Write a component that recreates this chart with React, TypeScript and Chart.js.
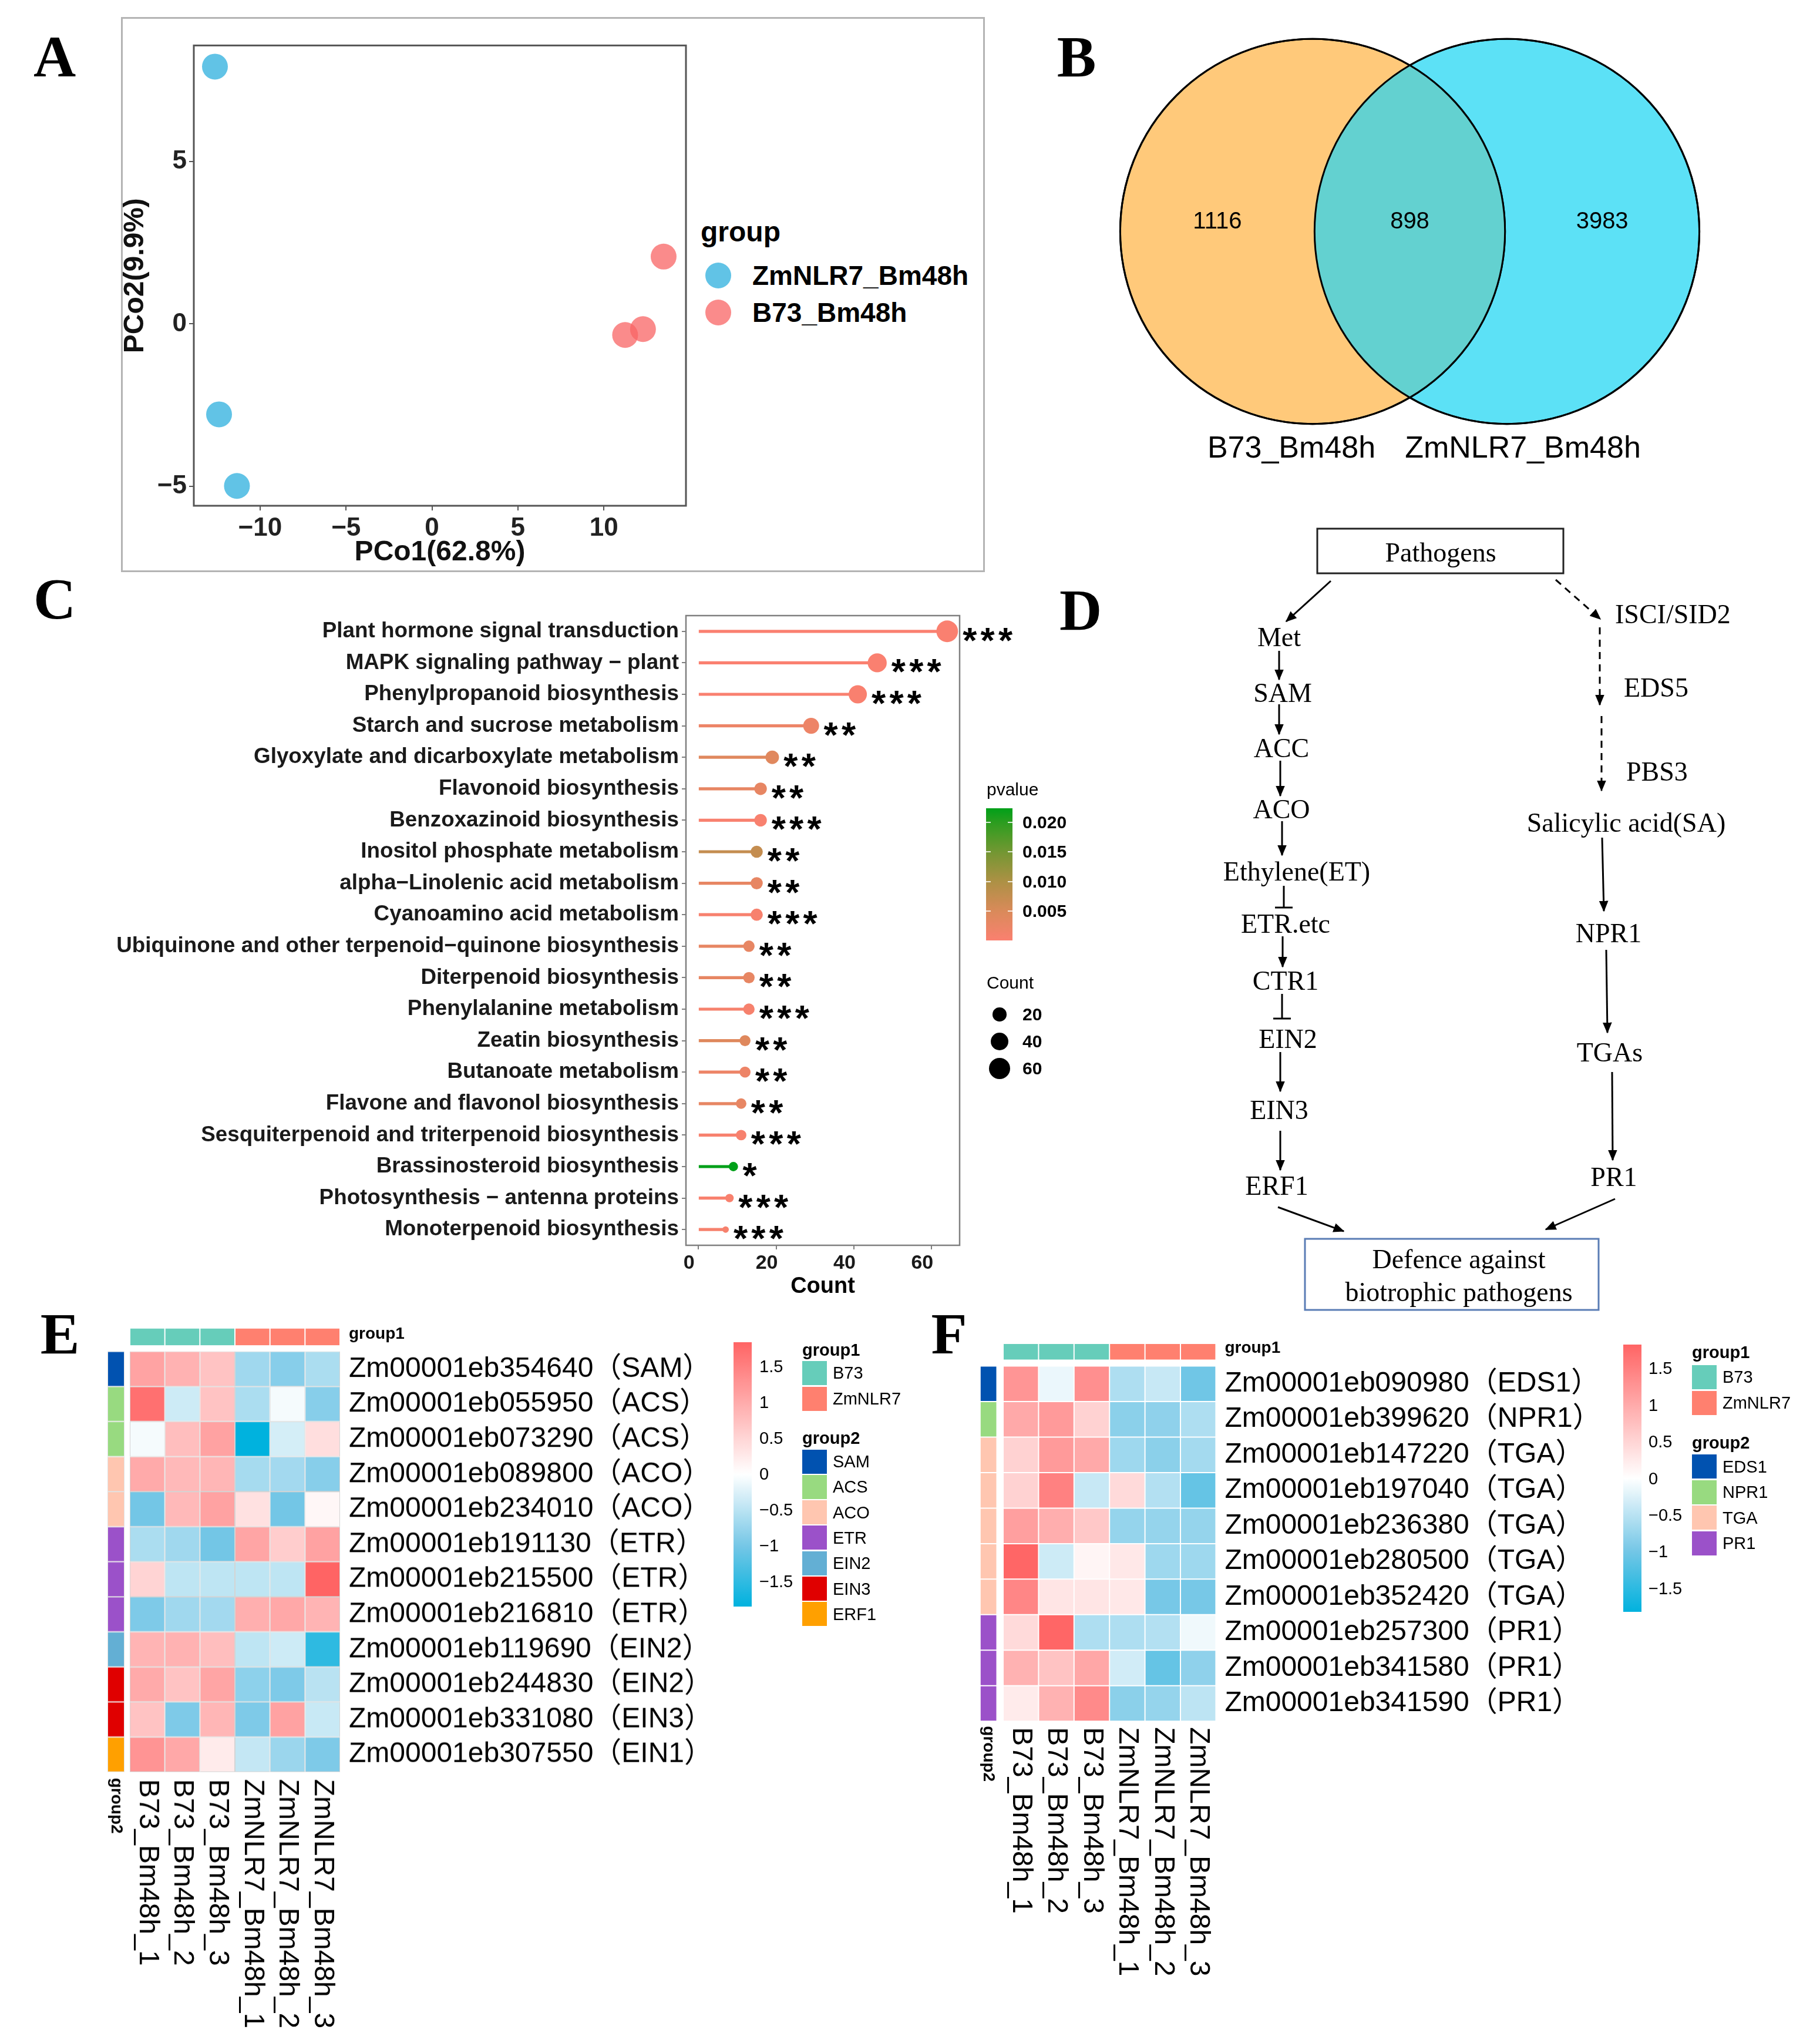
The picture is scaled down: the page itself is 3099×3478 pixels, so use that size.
import React, { useEffect, useRef } from 'react';
import { Chart, registerables } from 'chart.js';

Chart.register(...registerables);

const SANS = "'Liberation Sans', Arial, Helvetica, sans-serif";
const SERIF = "'Liberation Serif', 'Times New Roman', serif";
const GENE_FONT = "'Liberation Sans', 'Noto Sans CJK SC', sans-serif";

// ---------------- Panel A : PCoA ----------------
const pcoaGroups = ['ZmNLR7_Bm48h', 'B73_Bm48h'];
const pcoaZmNLR7X = [-12.63, -12.39, -11.35];
const pcoaZmNLR7Y = [7.91, -2.78, -4.98];
const pcoaB73X = [13.48, 12.28, 11.24];
const pcoaB73Y = [2.07, -0.16, -0.34];
const pcoaXTicks = [-10, -5, 0, 5, 10];
const pcoaYTicks = [-5, 0, 5];
const pcoaXTitle = 'PCo1(62.8%)';
const pcoaYTitle = 'PCo2(9.9%)';

// ---------------- Panel B : Venn ----------------
const vennSets = ['B73_Bm48h', 'ZmNLR7_Bm48h'];
const vennCounts = [1116, 898, 3983]; // B73 only, shared, ZmNLR7 only

// ---------------- Panel C : KEGG enrichment ----------------
const keggTerms = [
  'Plant hormone signal transduction',
  'MAPK signaling pathway \u2212 plant',
  'Phenylpropanoid biosynthesis',
  'Starch and sucrose metabolism',
  'Glyoxylate and dicarboxylate metabolism',
  'Flavonoid biosynthesis',
  'Benzoxazinoid biosynthesis',
  'Inositol phosphate metabolism',
  'alpha\u2212Linolenic acid metabolism',
  'Cyanoamino acid metabolism',
  'Ubiquinone and other terpenoid\u2212quinone biosynthesis',
  'Diterpenoid biosynthesis',
  'Phenylalanine metabolism',
  'Zeatin biosynthesis',
  'Butanoate metabolism',
  'Flavone and flavonol biosynthesis',
  'Sesquiterpenoid and triterpenoid biosynthesis',
  'Brassinosteroid biosynthesis',
  'Photosynthesis \u2212 antenna proteins',
  'Monoterpenoid biosynthesis',
];
const keggCounts = [64, 46, 41, 29, 19, 16, 16, 15, 15, 15, 13, 13, 13, 12, 12, 11, 11, 9, 8, 7];
const keggPvalues = [
  0.00003, 0.0001, 0.0002, 0.002, 0.004, 0.003, 0.0003, 0.0074, 0.003, 0.0005,
  0.003, 0.003, 0.0006, 0.0042, 0.002, 0.003, 0.0005, 0.0224, 0.0004, 0.0007,
];
const countTicks = [0, 20, 40, 60];
const pvalueTicks = [0.005, 0.01, 0.015, 0.02];
const countLegend = [20, 40, 60];

// ---------------- Panels E / F : heatmaps ----------------
const samples = ['B73_Bm48h_1', 'B73_Bm48h_2', 'B73_Bm48h_3', 'ZmNLR7_Bm48h_1', 'ZmNLR7_Bm48h_2', 'ZmNLR7_Bm48h_3'];
const sampleGroups = ['B73', 'B73', 'B73', 'ZmNLR7', 'ZmNLR7', 'ZmNLR7'];
const groupLegend = ['B73', 'ZmNLR7'];

const etGenes = [
  'Zm00001eb354640\uFF08SAM\uFF09',
  'Zm00001eb055950\uFF08ACS\uFF09',
  'Zm00001eb073290\uFF08ACS\uFF09',
  'Zm00001eb089800\uFF08ACO\uFF09',
  'Zm00001eb234010\uFF08ACO\uFF09',
  'Zm00001eb191130\uFF08ETR\uFF09',
  'Zm00001eb215500\uFF08ETR\uFF09',
  'Zm00001eb216810\uFF08ETR\uFF09',
  'Zm00001eb119690\uFF08EIN2\uFF09',
  'Zm00001eb244830\uFF08EIN2\uFF09',
  'Zm00001eb331080\uFF08EIN3\uFF09',
  'Zm00001eb307550\uFF08EIN1\uFF09',
];
const etFamilies = ['SAM', 'ACS', 'ACS', 'ACO', 'ACO', 'ETR', 'ETR', 'ETR', 'EIN2', 'EIN3', 'EIN3', 'ERF1'];
const etValues = [
  [1.09, 0.91, 0.71, -0.69, -0.87, -0.61],
  [1.7, -0.36, 0.71, -0.61, -0.07, -0.87],
  [-0.07, 0.77, 1.1, -1.85, -0.31, 0.39],
  [1.01, 0.83, 0.87, -0.65, -0.67, -0.87],
  [-1.02, 0.83, 1.1, 0.36, -1.02, 0.09],
  [-0.61, -0.69, -1.02, 1.07, 0.59, 1.1],
  [0.51, -0.47, -0.47, -0.47, -0.47, 1.84],
  [-0.94, -0.69, -0.67, 0.95, 1.03, 0.89],
  [0.89, 0.91, 0.77, -0.47, -0.36, -1.52],
  [1.01, 0.71, 1.07, -0.83, -0.94, -0.51],
  [0.71, -0.94, 0.87, -0.94, 1.1, -0.4],
  [1.27, 1.03, 0.24, -0.43, -0.73, -0.94],
];
const etFamilyLegend = ['SAM', 'ACS', 'ACO', 'ETR', 'EIN2', 'EIN3', 'ERF1'];

const saGenes = [
  'Zm00001eb090980\uFF08EDS1\uFF09',
  'Zm00001eb399620\uFF08NPR1\uFF09',
  'Zm00001eb147220\uFF08TGA\uFF09',
  'Zm00001eb197040\uFF08TGA\uFF09',
  'Zm00001eb236380\uFF08TGA\uFF09',
  'Zm00001eb280500\uFF08TGA\uFF09',
  'Zm00001eb352420\uFF08TGA\uFF09',
  'Zm00001eb257300\uFF08PR1\uFF09',
  'Zm00001eb341580\uFF08PR1\uFF09',
  'Zm00001eb341590\uFF08PR1\uFF09',
];
const saFamilies = ['EDS1', 'NPR1', 'TGA', 'TGA', 'TGA', 'TGA', 'TGA', 'PR1', 'PR1', 'PR1'];
const saValues = [
  [1.25, -0.14, 1.31, -0.58, -0.4, -1.02],
  [1.01, 1.19, 0.53, -0.83, -0.8, -0.58],
  [0.53, 1.19, 1.01, -0.69, -0.83, -0.65],
  [0.53, 1.48, -0.4, 0.44, -0.54, -1.1],
  [1.13, 0.95, 0.65, -0.76, -0.76, -0.76],
  [1.8, -0.36, 0.12, 0.27, -0.69, -0.69],
  [1.42, 0.3, 0.3, 0.27, -0.97, -0.97],
  [0.44, 1.8, -0.58, -0.58, -0.54, -0.11],
  [0.91, 0.71, 1.03, -0.33, -1.1, -0.8],
  [0.24, 0.91, 1.37, -0.83, -0.76, -0.47],
];
const saFamilyLegend = ['EDS1', 'NPR1', 'TGA', 'PR1'];
const heatTicks = [1.5, 1, 0.5, 0, -0.5, -1, -1.5];

// ---------------- colours ----------------
const GROUP_COLORS: Record<string, string> = { B73: '#66CDBA', ZmNLR7: '#FF806F' };
const FAMILY_COLORS: Record<string, string> = {
  SAM: '#0152B0', ACS: '#98DA80', ACO: '#FFC6B0', ETR: '#9B51C9', EIN2: '#63AFD4', EIN3: '#E00000', ERF1: '#FFA000',
  EDS1: '#0152B0', NPR1: '#98DA80', TGA: '#FFC6B0', PR1: '#9B51C9',
};

type Stop = [number, number[]];
function ramp(stops: Stop[], t: number) {
  const tt = Math.max(0, Math.min(1, t));
  for (let i = 1; i < stops.length; i++) {
    const [t1, c1] = stops[i];
    const [t0, c0] = stops[i - 1];
    if (tt <= t1) {
      const f = (tt - t0) / (t1 - t0);
      return c0.map((v, k) => Math.round(v + (c1[k] - v) * f));
    }
  }
  return stops[stops.length - 1][1];
}
const rgb = (c: number[]) => `rgb(${c[0]},${c[1]},${c[2]})`;

const HEAT_POS: Stop[] = [[0, [255, 255, 255]], [1, [255, 100, 100]]];
const HEAT_NEG: Stop[] = [[0, [255, 255, 255]], [0.55, [115, 198, 230]], [1, [0, 178, 222]]];
function heatColor(v: number, lo: number, hi: number) {
  return v >= 0 ? rgb(ramp(HEAT_POS, v / hi)) : rgb(ramp(HEAT_NEG, v / lo));
}

const P_STOPS: Stop[] = [
  [0, [250, 128, 112]], [0.22, [218, 138, 90]], [0.45, [172, 145, 68]],
  [0.67, [115, 151, 50]], [0.89, [45, 157, 32]], [1, [0, 160, 25]],
];
const P_MIN = Math.min(...keggPvalues);
const P_MAX = Math.max(...keggPvalues);
const pColor = (p: number) => rgb(ramp(P_STOPS, (p - P_MIN) / (P_MAX - P_MIN)));
const keggColors = keggPvalues.map(pColor);
const C_MIN = Math.min(...keggCounts);
const C_MAX = Math.max(...keggCounts);
const dotRadius = (c: number) => 5.5 + 12.95 * Math.sqrt(Math.max(0, (c - C_MIN) / (C_MAX - C_MIN)));
const starsFor = (p: number) => (p < 0.001 ? 3 : p < 0.01 ? 2 : p < 0.05 ? 1 : 0);
const fmtMinus = (v: number) => (v < 0 ? '\u2212' + Math.abs(v) : String(v));

// ---------------- plugins ----------------
const framePlugin = {
  id: 'frame',
  afterDraw(chart: any, _a: any, opts: any) {
    if (!opts || !opts.color) return;
    const { ctx, chartArea } = chart;
    ctx.save();
    ctx.strokeStyle = opts.color;
    ctx.lineWidth = opts.width;
    ctx.strokeRect(chartArea.left, chartArea.top, chartArea.right - chartArea.left, chartArea.bottom - chartArea.top);
    ctx.restore();
  },
};

const starsPlugin = {
  id: 'stars',
  afterDatasetsDraw(chart: any) {
    const { ctx } = chart;
    const xs = chart.scales.x;
    const ys = chart.scales.y;
    ctx.save();
    ctx.fillStyle = '#000';
    ctx.font = `bold 62px ${SANS}`;
    ctx.textAlign = 'center';
    ctx.textBaseline = 'alphabetic';
    keggCounts.forEach((c, i) => {
      const n = starsFor(keggPvalues[i]);
      const x0 = xs.getPixelForValue(c) + dotRadius(c) + 20;
      const y = ys.getPixelForValue(i) + 36;
      for (let k = 0; k < n; k++) ctx.fillText('*', x0 + k * 30.4, y);
    });
    ctx.restore();
  },
};

const vennPlugin = {
  id: 'venn',
  afterDatasetsDraw(chart: any, _a: any, opts: any) {
    const { ctx } = chart;
    const ma = chart.getDatasetMeta(0).data[0];
    const mb = chart.getDatasetMeta(1).data[0];
    if (!ma || !mb) return;
    const ra = ma.options.radius;
    const rb = mb.options.radius;
    ctx.save();
    ctx.beginPath();
    ctx.arc(ma.x, ma.y, ra, 0, Math.PI * 2);
    ctx.clip();
    ctx.beginPath();
    ctx.arc(mb.x, mb.y, rb, 0, Math.PI * 2);
    ctx.fillStyle = opts.overlap;
    ctx.fill();
    ctx.restore();
    ctx.save();
    ctx.strokeStyle = '#000';
    ctx.lineWidth = 3;
    ctx.beginPath();
    ctx.arc(ma.x, ma.y, ra, 0, Math.PI * 2);
    ctx.stroke();
    ctx.beginPath();
    ctx.arc(mb.x, mb.y, rb, 0, Math.PI * 2);
    ctx.stroke();
    ctx.fillStyle = '#000';
    ctx.font = `40px ${SANS}`;
    ctx.textAlign = 'center';
    ctx.textBaseline = 'middle';
    const y = ma.y - 16;
    ctx.fillText(String(vennCounts[0]), (ma.x - ra + (mb.x - rb)) / 2, y);
    ctx.fillText(String(vennCounts[1]), (mb.x - rb + (ma.x + ra)) / 2, y);
    ctx.fillText(String(vennCounts[2]), (ma.x + ra + (mb.x + rb)) / 2, y);
    ctx.restore();
  },
};

const colLabelsPlugin = {
  id: 'colLabels',
  afterDraw(chart: any, _a: any, opts: any) {
    const { ctx, chartArea } = chart;
    const xs = chart.scales.x;
    ctx.save();
    ctx.fillStyle = '#000';
    ctx.textAlign = 'left';
    ctx.textBaseline = 'middle';
    ctx.font = `48px ${SANS}`;
    samples.forEach((lab, j) => {
      ctx.save();
      ctx.translate(xs.getPixelForValue(j + 0.5), chartArea.bottom + opts.gap);
      ctx.rotate(Math.PI / 2);
      ctx.fillText(lab, 0, 0);
      ctx.restore();
    });
    ctx.font = `bold 28px ${SANS}`;
    ctx.translate(xs.getPixelForValue((opts.annX0 + opts.annX1) / 2), chartArea.bottom + opts.gap - 2);
    ctx.rotate(Math.PI / 2);
    ctx.fillText('group2', 0, 0);
    ctx.restore();
  },
};

// ---------------- chart configs ----------------
function pcoaConfig() {
  const font = (size: number) => ({ family: SANS, size, weight: 'bold' as const });
  return {
    type: 'scatter',
    data: {
      datasets: [
        {
          label: pcoaGroups[0],
          data: pcoaZmNLR7X.map((x, i) => ({ x, y: pcoaZmNLR7Y[i] })),
          pointRadius: 22,
          backgroundColor: 'rgba(84,190,228,0.92)',
          borderWidth: 0,
        },
        {
          label: pcoaGroups[1],
          data: pcoaB73X.map((x, i) => ({ x, y: pcoaB73Y[i] })),
          pointRadius: 22,
          backgroundColor: 'rgba(248,100,100,0.75)',
          borderWidth: 0,
        },
      ],
    },
    options: {
      responsive: false,
      animation: false,
      events: [],
      layout: { autoPadding: false, padding: { top: 20, right: 10, left: 0, bottom: 0 } },
      plugins: { legend: { display: false }, tooltip: { enabled: false }, frame: { color: '#555555', width: 3 } },
      scales: {
        x: {
          type: 'linear',
          min: -13.86,
          max: 14.78,
          afterBuildTicks: (s: any) => { s.ticks = pcoaXTicks.map((v) => ({ value: v })); },
          ticks: { font: font(44), color: '#222', padding: 4, callback: (v: number) => fmtMinus(v) },
          grid: { drawOnChartArea: false, tickLength: 8, color: '#555', lineWidth: 2 },
          border: { display: false },
          title: { display: true, text: pcoaXTitle, font: font(48), color: '#111', padding: { top: 0, bottom: 4 } },
          afterFit: (s: any) => { s.height = 113; },
        },
        y: {
          type: 'linear',
          min: -5.59,
          max: 8.56,
          afterBuildTicks: (s: any) => { s.ticks = pcoaYTicks.map((v) => ({ value: v })); },
          ticks: { font: font(44), color: '#222', padding: 4, callback: (v: number) => fmtMinus(v) },
          grid: { drawOnChartArea: false, tickLength: 8, color: '#555', lineWidth: 2 },
          border: { display: false },
          title: { display: true, text: pcoaYTitle, font: font(48), color: '#111', padding: { top: 2, bottom: 0 } },
          afterFit: (s: any) => { s.width = 130; },
        },
      },
    },
    plugins: [framePlugin],
  };
}

const VENN_BOX = { left: 1871, top: 30, width: 1059, height: 728 };
const VENN_XRANGE = 1.6;
function vennConfig() {
  // circle radius = 0.99 x distance between the two set centres (1 axis unit)
  const unitPx = VENN_BOX.width / (2 * VENN_XRANGE);
  const r = 0.99 * unitPx;
  return {
    type: 'bubble',
    data: {
      datasets: [
        { label: vennSets[0], data: [{ x: -0.5, y: 0, r }], backgroundColor: '#FFC97A', borderColor: '#000', borderWidth: 3 },
        { label: vennSets[1], data: [{ x: 0.5, y: 0, r }], backgroundColor: '#5CE1F6', borderColor: '#000', borderWidth: 3 },
      ],
    },
    options: {
      responsive: false,
      animation: false,
      events: [],
      clip: false,
      layout: { autoPadding: false, padding: 0 },
      plugins: { legend: { display: false }, tooltip: { enabled: false }, venn: { overlap: '#63D1D0' } },
      scales: {
        x: { type: 'linear', display: false, min: -VENN_XRANGE, max: VENN_XRANGE },
        y: { type: 'linear', display: false, min: -1.1, max: 1.1 },
      },
    },
    plugins: [vennPlugin],
  };
}

function keggConfig() {
  return {
    type: 'bar',
    data: {
      labels: keggTerms,
      datasets: [
        { type: 'bar', data: keggCounts, backgroundColor: keggColors, barThickness: 4.5, borderWidth: 0, order: 2 },
        {
          type: 'line',
          data: keggCounts,
          showLine: false,
          pointRadius: (ctx: any) => dotRadius(keggCounts[ctx.dataIndex ?? 0]),
          pointBackgroundColor: keggColors,
          pointBorderWidth: 0,
          order: 1,
        },
      ],
    },
    options: {
      indexAxis: 'y',
      responsive: false,
      animation: false,
      events: [],
      layout: { autoPadding: false, padding: { top: 48, right: 116, left: 0, bottom: 0 } },
      plugins: { legend: { display: false }, tooltip: { enabled: false }, frame: { color: '#7f7f7f', width: 2.5 } },
      scales: {
        x: {
          type: 'linear',
          min: -3.2,
          max: 67.2,
          afterBuildTicks: (s: any) => { s.ticks = countTicks.map((v) => ({ value: v })); },
          ticks: { font: { family: SANS, size: 34, weight: 'bold' }, color: '#1a1a1a', padding: 3, labelOffset: -16 },
          grid: { drawOnChartArea: false, tickLength: 7, color: '#7f7f7f', lineWidth: 2 },
          border: { display: false },
          title: { display: true, text: 'Count', font: { family: SANS, size: 38, weight: 'bold' }, color: '#000', padding: { top: 0, bottom: 2 } },
          afterFit: (s: any) => { s.height = 95; },
        },
        y: {
          type: 'category',
          ticks: { font: { family: SANS, size: 36.8, weight: 'bold' }, color: '#1a1a1a', padding: 5, autoSkip: false },
          grid: { drawOnChartArea: false, tickLength: 7, color: '#7f7f7f', lineWidth: 2, offset: false },
          border: { display: false },
          afterFit: (s: any) => { s.width = 1168; },
        },
      },
    },
    plugins: [framePlugin, starsPlugin],
  };
}

type HeatCfg = {
  lo: number; hi: number; annX0: number; annX1: number; gridColor: string; annBorder: string;
  g1Top: number; g1Bottom: number; padLeft: number; padTop: number; padBottom: number; axisWidth: number; gap: number;
};
function heatConfig(genes: string[], families: string[], values: number[][], cfg: HeatCfg) {
  const rows = ['group1', ...genes];
  const datasets: any[] = samples.map((_s, j) => ({
    type: 'bar',
    data: rows.map(() => [j, j + 1]),
    backgroundColor: (ctx: any) => {
      const i = ctx.dataIndex ?? 1;
      return i === 0 ? GROUP_COLORS[sampleGroups[j]] : heatColor(values[i - 1][j], cfg.lo, cfg.hi);
    },
    borderColor: (ctx: any) => ((ctx.dataIndex ?? 1) === 0 ? '#FFFFFF' : cfg.gridColor),
    borderWidth: (ctx: any) =>
      (ctx.dataIndex ?? 1) === 0 ? { top: cfg.g1Top, bottom: cfg.g1Bottom, left: 1, right: 1 } : 1,
    borderSkipped: false,
    inflateAmount: 0,
    barPercentage: 1,
    categoryPercentage: 1,
    grouped: false,
  }));
  datasets.push({
    type: 'bar',
    data: rows.map((_r, i) => (i === 0 ? null : [cfg.annX0, cfg.annX1])),
    backgroundColor: (ctx: any) => FAMILY_COLORS[families[(ctx.dataIndex ?? 1) - 1]] || 'rgba(0,0,0,0)',
    borderColor: cfg.annBorder,
    borderWidth: 1,
    borderSkipped: false,
    inflateAmount: 0,
    barPercentage: 1,
    categoryPercentage: 1,
    grouped: false,
  });
  return {
    type: 'bar',
    data: { labels: rows, datasets },
    options: {
      indexAxis: 'y',
      responsive: false,
      animation: false,
      events: [],
      layout: { autoPadding: false, padding: { left: cfg.padLeft, top: cfg.padTop, bottom: cfg.padBottom, right: 0 } },
      plugins: {
        legend: { display: false },
        tooltip: { enabled: false },
        colLabels: { gap: cfg.gap, annX0: cfg.annX0, annX1: cfg.annX1 },
      },
      scales: {
        x: { type: 'linear', display: false, min: cfg.annX0, max: samples.length },
        y: {
          type: 'category',
          position: 'right',
          offset: true,
          grid: { display: false },
          border: { display: false },
          ticks: {
            autoSkip: false,
            padding: 7,
            color: '#000',
            font: (ctx: any) =>
              ctx.index === 0 ? { family: SANS, size: 28, weight: 'bold' } : { family: GENE_FONT, size: 48 },
          },
          afterFit: (s: any) => { s.width = cfg.axisWidth; },
        },
      },
    },
    plugins: [colLabelsPlugin],
  };
}

// ---------------- React helpers ----------------
type Box = { left: number; top: number; width: number; height: number };
function ChartCanvas({ box, make }: { box: Box; make: () => any }) {
  const ref = useRef<HTMLCanvasElement | null>(null);
  useEffect(() => {
    if (!ref.current) return;
    const chart = new Chart(ref.current, make());
    return () => chart.destroy();
  }, []);
  return (
    <canvas
      ref={ref}
      width={box.width}
      height={box.height}
      style={{ position: 'absolute', left: box.left, top: box.top, width: box.width, height: box.height }}
    />
  );
}

function T({ x, y, s, t, w = 'normal', f = SANS, a = 'l', c = '#000' }: {
  x: number; y: number; s: number; t: string; w?: string; f?: string; a?: 'l' | 'c' | 'r'; c?: string;
}) {
  const tx = a === 'l' ? '0' : a === 'c' ? '-50%' : '-100%';
  return (
    <div
      style={{
        position: 'absolute', left: x, top: y, transform: `translate(${tx},-50%)`, fontSize: s, fontWeight: w as any,
        fontFamily: f, color: c, whiteSpace: 'nowrap', lineHeight: 1,
      }}
    >
      {t}
    </div>
  );
}

function Rect({ l, t, w, h, bg, r }: { l: number; t: number; w: number; h: number; bg: string; r?: number }) {
  return <div style={{ position: 'absolute', left: l, top: t, width: w, height: h, background: bg, borderRadius: r }} />;
}

function HeatLegend({ barLeft, zeroY, perUnit, lo, hi, labelX, keyLeft, g1TitleY, g1Ys, g2TitleY, g2Y0, g2Step, families }: {
  barLeft: number; zeroY: number; perUnit: number; lo: number; hi: number; labelX: number; keyLeft: number;
  g1TitleY: number; g1Ys: number[]; g2TitleY: number; g2Y0: number; g2Step: number; families: string[];
}) {
  const top = zeroY - hi * perUnit;
  const bottom = zeroY - lo * perUnit;
  const stops: string[] = [];
  for (let k = 0; k <= 40; k++) {
    const v = hi - ((hi - lo) * k) / 40;
    stops.push(`${heatColor(v, lo, hi)} ${((k / 40) * 100).toFixed(2)}%`);
  }
  return (
    <>
      <div style={{ position: 'absolute', left: barLeft, top, width: 31, height: bottom - top, background: `linear-gradient(to bottom, ${stops.join(',')})` }} />
      {heatTicks.map((v) => (
        <T key={v} x={labelX} y={zeroY - v * perUnit} s={29} t={fmtMinus(v)} />
      ))}
      <T x={keyLeft} y={g1TitleY} s={29} w="bold" t="group1" />
      {groupLegend.map((g, k) => (
        <React.Fragment key={g}>
          <Rect l={keyLeft} t={g1Ys[k] - 20.5} w={42} h={41} bg={GROUP_COLORS[g]} />
          <T x={keyLeft + 52} y={g1Ys[k]} s={29} t={g} />
        </React.Fragment>
      ))}
      <T x={keyLeft} y={g2TitleY} s={29} w="bold" t="group2" />
      {families.map((g, k) => (
        <React.Fragment key={g}>
          <Rect l={keyLeft} t={g2Y0 + k * g2Step - 20.5} w={42} h={41} bg={FAMILY_COLORS[g]} />
          <T x={keyLeft + 52} y={g2Y0 + k * g2Step} s={29} t={g} />
        </React.Fragment>
      ))}
    </>
  );
}

// ---------------- Panel D (pathway diagram) ----------------
const dNodes: [string, number, number, 'c' | 'l'][] = [
  ['Met', 2178, 1084, 'c'], ['SAM', 2184, 1179, 'c'], ['ACC', 2182, 1273, 'c'], ['ACO', 2182, 1377, 'c'],
  ['Ethylene(ET)', 2208, 1483, 'c'], ['ETR.etc', 2189, 1572, 'c'], ['CTR1', 2189, 1669, 'c'], ['EIN2', 2193, 1768, 'c'],
  ['EIN3', 2178, 1889, 'c'], ['ERF1', 2174, 2018, 'c'],
  ['ISCI/SID2', 2750, 1045, 'l'], ['EDS5', 2765, 1170, 'l'], ['PBS3', 2769, 1313, 'l'],
  ['Salicylic acid(SA)', 2769, 1400, 'c'], ['NPR1', 2739, 1588, 'c'], ['TGAs', 2741, 1791, 'c'], ['PR1', 2748, 2003, 'c'],
];
const dArrows: [number, number, number, number, boolean][] = [
  [2266, 989, 2190, 1058, false], [2178, 1108, 2178, 1157, false], [2178, 1199, 2178, 1250, false],
  [2180, 1295, 2180, 1355, false], [2183, 1398, 2183, 1456, false], [2184, 1594, 2184, 1646, false],
  [2180, 1791, 2180, 1858, false], [2180, 1925, 2180, 1992, false], [2176, 2055, 2288, 2096, false],
  [2649, 987, 2725, 1054, true], [2724, 1068, 2724, 1200, true], [2727, 1219, 2727, 1346, true],
  [2728, 1426, 2731, 1551, false], [2735, 1617, 2737, 1758, false], [2745, 1825, 2746, 1975, false],
  [2750, 2041, 2632, 2093, false],
];
const dInhibits: [number, number, number][] = [[2186, 1508, 1545], [2183, 1692, 1734]];

function PathwayDiagram() {
  return (
    <svg width={3099} height={3478} style={{ position: 'absolute', left: 0, top: 0, pointerEvents: 'none' }}>
      <defs>
        <marker id="ah" viewBox="0 0 12 10" refX="11" refY="5" markerWidth="19" markerHeight="16" markerUnits="userSpaceOnUse" orient="auto">
          <path d="M0,0 L12,5 L0,10 z" fill="#000" />
        </marker>
      </defs>
      <rect x={2243} y={900} width={419} height={76} fill="#fff" stroke="#222" strokeWidth={3} />
      <text x={2453} y={940} fontFamily={SERIF} fontSize={46} textAnchor="middle" dominantBaseline="central" fill="#000">Pathogens</text>
      <rect x={2222} y={2109} width={500} height={121} fill="#fff" stroke="#5A7DB5" strokeWidth={3} />
      <text x={2484} y={2143} fontFamily={SERIF} fontSize={46} textAnchor="middle" dominantBaseline="central" fill="#000">Defence against</text>
      <text x={2484} y={2199} fontFamily={SERIF} fontSize={46} textAnchor="middle" dominantBaseline="central" fill="#000">biotrophic pathogens</text>
      {dArrows.map(([x1, y1, x2, y2, dashed], i) => (
        <line key={i} x1={x1} y1={y1} x2={x2} y2={y2} stroke="#000" strokeWidth={3} strokeDasharray={dashed ? '12 9' : undefined} markerEnd="url(#ah)" />
      ))}
      {dInhibits.map(([x, y1, y2], i) => (
        <g key={i}>
          <line x1={x} y1={y1} x2={x} y2={y2} stroke="#000" strokeWidth={3} />
          <line x1={x - 15} y1={y2} x2={x + 15} y2={y2} stroke="#000" strokeWidth={3} />
        </g>
      ))}
      {dNodes.map(([t, x, y, a]) => (
        <text key={t} x={x} y={y} fontFamily={SERIF} fontSize={46} textAnchor={a === 'c' ? 'middle' : 'start'} dominantBaseline="central" fill="#000">{t}</text>
      ))}
    </svg>
  );
}

// ---------------- App ----------------
export default function App() {
  const pStops: string[] = [];
  for (let k = 0; k <= 20; k++) {
    const p = P_MAX - ((P_MAX - P_MIN) * k) / 20;
    pStops.push(`${pColor(p)} ${(k * 5).toFixed(1)}%`);
  }
  const pY = (p: number) => 1601 - ((p - P_MIN) / (P_MAX - P_MIN)) * 225;
  const letter = (t: string, x: number, y: number) => <T x={x} y={y} s={100} w="bold" f={SERIF} a="c" t={t} />;

  return (
    <div style={{ position: 'absolute', left: 0, top: 0, width: 3099, height: 3478, background: '#fff', overflow: 'hidden' }}>
      {/* Panel A */}
      <div style={{ position: 'absolute', left: 206, top: 29, width: 1471, height: 945, border: '3px solid #B4B4B4', boxSizing: 'border-box' }} />
      <ChartCanvas box={{ left: 200, top: 47, width: 978, height: 927 }} make={pcoaConfig} />
      <T x={1193} y={395} s={48} w="bold" t="group" />
      <Rect l={1201} t={447} w={44} h={44} r={22} bg="rgba(84,190,228,0.92)" />
      <T x={1281} y={469} s={46} w="bold" t={pcoaGroups[0]} />
      <Rect l={1201} t={510} w={44} h={44} r={22} bg="rgba(248,100,100,0.75)" />
      <T x={1281} y={532} s={46} w="bold" t={pcoaGroups[1]} />

      {/* Panel B */}
      <ChartCanvas box={VENN_BOX} make={vennConfig} />
      <T x={2199} y={761} s={52} a="c" t={vennSets[0]} />
      <T x={2593} y={761} s={52} a="c" t={vennSets[1]} />

      {/* Panel C */}
      <ChartCanvas box={{ left: 0, top: 1000, width: 1750, height: 1215 }} make={keggConfig} />
      <T x={1680} y={1344} s={30} t="pvalue" />
      <div style={{ position: 'absolute', left: 1679, top: 1376, width: 45, height: 225, background: `linear-gradient(to bottom, ${pStops.join(',')})` }} />
      {pvalueTicks.map((p) => (
        <React.Fragment key={p}>
          <Rect l={1679} t={pY(p) - 1} w={8} h={2} bg="rgba(255,255,255,0.8)" />
          <Rect l={1716} t={pY(p) - 1} w={8} h={2} bg="rgba(255,255,255,0.8)" />
          <T x={1741} y={pY(p)} s={30} w="bold" t={p.toFixed(3)} />
        </React.Fragment>
      ))}
      <T x={1680} y={1673} s={30} t="Count" />
      {countLegend.map((c, k) => {
        const r = dotRadius(c);
        const cy = 1727 + k * 46;
        return (
          <React.Fragment key={c}>
            <Rect l={1702 - r} t={cy - r} w={2 * r} h={2 * r} r={r} bg="#000" />
            <T x={1741} y={cy} s={30} w="bold" t={String(c)} />
          </React.Fragment>
        );
      })}

      {/* Panel D */}
      <PathwayDiagram />

      {/* Panel E */}
      <ChartCanvas
        box={{ left: 160, top: 2196.3, width: 1080, height: 1281.7 }}
        make={() =>
          heatConfig(etGenes, etFamilies, etValues, {
            lo: -1.85, hi: 1.84, annX0: -0.637, annX1: -0.151, gridColor: '#D4D4D4', annBorder: '#E2E2E2',
            g1Top: 20.7, g1Bottom: 10.5, padLeft: 23, padTop: 45, padBottom: 461, axisWidth: 661, gap: 12,
          })
        }
      />
      <HeatLegend
        barLeft={1249} zeroY={2509} perUnit={122} lo={-1.85} hi={1.84} labelX={1293} keyLeft={1366}
        g1TitleY={2298} g1Ys={[2337, 2381]} g2TitleY={2448} g2Y0={2488} g2Step={43.3} families={etFamilyLegend}
      />

      {/* Panel F */}
      <ChartCanvas
        box={{ left: 1640, top: 2220, width: 1115, height: 1258 }}
        make={() =>
          heatConfig(saGenes, saFamilies, saValues, {
            lo: -1.82, hi: 1.82, annX0: -0.649, annX1: -0.174, gridColor: '#FFFFFF', annBorder: '#FFFFFF',
            g1Top: 23, g1Bottom: 11, padLeft: 28.8, padTop: 45, padBottom: 547.7, axisWidth: 684.6, gap: 10,
          })
        }
      />
      <HeatLegend
        barLeft={2764} zeroY={2516.5} perUnit={124.8} lo={-1.82} hi={1.82} labelX={2807} keyLeft={2881}
        g1TitleY={2302} g1Ys={[2344, 2388]} g2TitleY={2456} g2Y0={2496.5} g2Step={43.5} families={saFamilyLegend}
      />

      {/* panel letters */}
      {letter('A', 93, 97)}
      {letter('B', 1833, 97)}
      {letter('C', 93, 1020)}
      {letter('D', 1840, 1039)}
      {letter('E', 102, 2271)}
      {letter('F', 1616, 2271)}
    </div>
  );
}
